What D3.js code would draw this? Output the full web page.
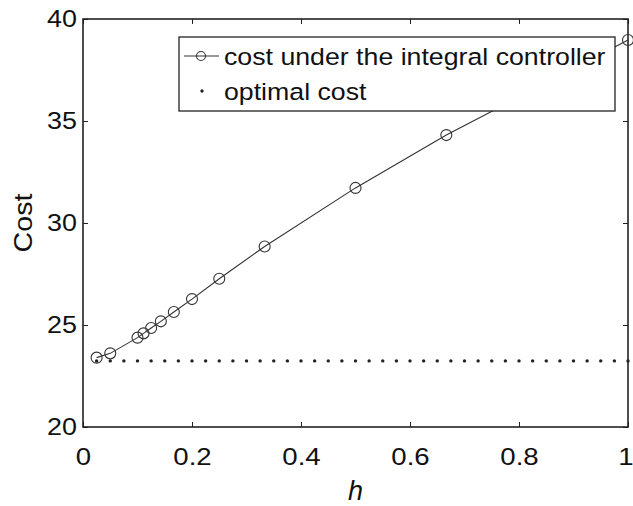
<!DOCTYPE html>
<html>
<head>
<meta charset="utf-8">
<script src="https://cdn.jsdelivr.net/npm/d3@7"></script>
<style>
  html, body { margin: 0; padding: 0; background: #fff; }
  svg { display: block; }
  text { font-family: "Liberation Sans", Arial, Helvetica, sans-serif; fill: #111; }
</style>
</head>
<body>
<svg id="chart" width="633" height="506"></svg>
<script>
// Sampling period h and the cost of the integral controller at each h
const hValues = [0.025, 0.05, 0.1, 1/9, 0.125, 1/7, 1/6, 0.2, 0.25, 1/3, 0.5, 2/3, 1];
const integralCost = [23.40, 23.61, 24.38, 24.59, 24.85, 25.18, 25.64, 26.27, 27.27, 28.85, 31.72, 34.31, 38.97];

// Optimal cost, evaluated on an evenly spaced grid of h
const optimalH = d3.range(1, 41).map(i => i / 40);
const optimalCostValue = 23.24;
const optimalCost = optimalH.map(() => optimalCostValue);

const xTicks = [0, 0.2, 0.4, 0.6, 0.8, 1];
const yTicks = [20, 25, 30, 35, 40];
const legendLabels = ["cost under the integral controller", "optimal cost"];

const svg = d3.select("#chart");
const margin = { left: 83, right: 5, top: 19, bottom: 79 };
const W = 633, H = 506;

const x = d3.scaleLinear().domain([0, 1]).range([margin.left, W - margin.right]);
const y = d3.scaleLinear().domain([20, 40]).range([H - margin.bottom, margin.top]);

const ink = "#222";

// Widen a text horizontally by a factor, keeping its glyph height
function widen(sel, factor) {
  sel.each(function () {
    const len = this.getComputedTextLength();
    d3.select(this).attr("textLength", len * factor).attr("lengthAdjust", "spacingAndGlyphs");
  });
}

// Axes with inward ticks on all four sides (box frame)
const tickLen = 5;
svg.append("g")
  .attr("transform", `translate(0,${y(20)})`)
  .call(d3.axisBottom(x).tickValues(xTicks).tickSizeInner(-tickLen).tickSizeOuter(0)
    .tickFormat(d => d3.format("")(d)))
  .call(g => g.select(".domain").remove())
  .call(g => g.selectAll("line").attr("stroke", ink))
  .call(g => g.selectAll("text").attr("font-size", 24).attr("dy", "0.71em").attr("y", 21))
  .call(g => g.selectAll("text").filter(d => d === 1).attr("text-anchor", "end").attr("x", 5))
  .call(g => widen(g.selectAll("text"), 1.15));

svg.append("g")
  .attr("transform", `translate(0,${y(40)})`)
  .call(d3.axisTop(x).tickValues(xTicks).tickSizeInner(-tickLen).tickSizeOuter(0).tickFormat(""))
  .call(g => g.select(".domain").remove())
  .call(g => g.selectAll("line").attr("stroke", ink));

svg.append("g")
  .attr("transform", `translate(${x(0)},0)`)
  .call(d3.axisLeft(y).tickValues(yTicks).tickSizeInner(-tickLen).tickSizeOuter(0))
  .call(g => g.select(".domain").remove())
  .call(g => g.selectAll("line").attr("stroke", ink))
  .call(g => g.selectAll("text").attr("font-size", 24).attr("x", -6))
  .call(g => widen(g.selectAll("text"), 1.12));

svg.append("g")
  .attr("transform", `translate(${x(1)},0)`)
  .call(d3.axisRight(y).tickValues(yTicks).tickSizeInner(-tickLen).tickSizeOuter(0).tickFormat(""))
  .call(g => g.select(".domain").remove())
  .call(g => g.selectAll("line").attr("stroke", ink));

// Plot frame
svg.append("rect")
  .attr("x", x(0)).attr("y", y(40))
  .attr("width", x(1) - x(0)).attr("height", y(20) - y(40))
  .attr("fill", "none").attr("stroke", ink).attr("stroke-width", 1.6);

// Optimal cost: dot markers only
svg.append("g").selectAll("circle")
  .data(optimalH.map((h, i) => [h, optimalCost[i]]))
  .join("circle")
  .attr("cx", d => x(d[0])).attr("cy", d => y(d[1]))
  .attr("r", 1.7).attr("fill", ink);

// Integral controller cost: line with open circle markers
const pts = hValues.map((h, i) => [h, integralCost[i]]);
svg.append("path")
  .datum(pts)
  .attr("d", d3.line().x(d => x(d[0])).y(d => y(d[1])))
  .attr("fill", "none").attr("stroke", "#333").attr("stroke-width", 1.1);

svg.append("g").selectAll("circle")
  .data(pts)
  .join("circle")
  .attr("cx", d => x(d[0])).attr("cy", d => y(d[1]))
  .attr("r", 5.5).attr("fill", "none").attr("stroke", "#333").attr("stroke-width", 1.1);

// Legend
const lg = svg.append("g");
const lgX = 179, lgY = 37, lgW = 436, lgH = 74;
lg.append("rect").attr("x", lgX).attr("y", lgY).attr("width", lgW).attr("height", lgH)
  .attr("fill", "#fff").attr("stroke", ink).attr("stroke-width", 1.3);
const row1 = lgY + 19, row2 = lgY + 54;
lg.append("line").attr("x1", lgX + 5).attr("x2", lgX + 40).attr("y1", row1).attr("y2", row1)
  .attr("stroke", "#333").attr("stroke-width", 1.1);
lg.append("circle").attr("cx", lgX + 22).attr("cy", row1).attr("r", 4.5)
  .attr("fill", "none").attr("stroke", "#333").attr("stroke-width", 1.1);
lg.append("circle").attr("cx", lgX + 23).attr("cy", row2).attr("r", 1.7).attr("fill", ink);
lg.selectAll("text.lab").data(legendLabels).join("text")
  .attr("class", "lab")
  .attr("x", lgX + 45)
  .attr("y", (d, i) => (i === 0 ? row1 : row2) + 9)
  .attr("font-size", 24.5)
  .text(d => d)
  .call(s => widen(s, 1.09));

// Axis titles
svg.append("text")
  .attr("x", x(0.5)).attr("y", 500)
  .attr("text-anchor", "middle")
  .attr("font-family", "'Liberation Serif', 'DejaVu Serif', serif")
  .attr("font-style", "italic")
  .attr("font-size", 27)
  .text("h");

svg.append("text")
  .attr("transform", "translate(32,223) rotate(-90)")
  .attr("text-anchor", "middle")
  .attr("font-size", 26)
  .text("Cost")
  .call(s => widen(s, 1.1));
</script>
</body>
</html>
